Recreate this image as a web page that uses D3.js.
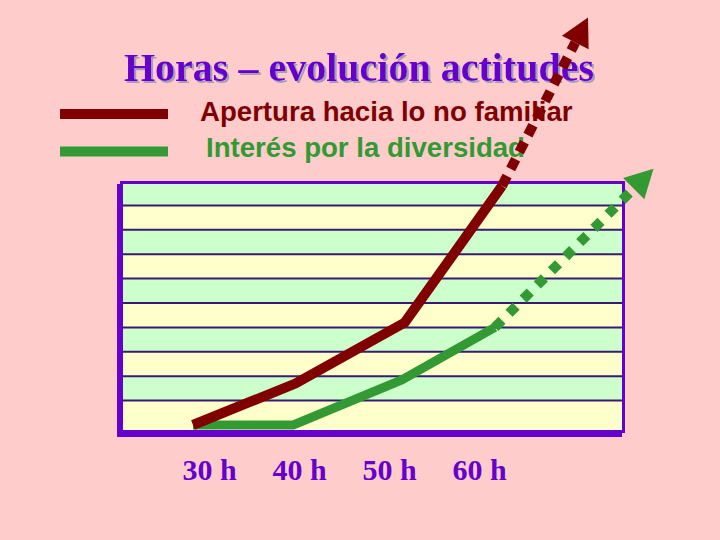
<!DOCTYPE html>
<html>
<head>
<meta charset="utf-8">
<script src="https://cdn.jsdelivr.net/npm/d3@7"></script>
<style>
  html, body { margin: 0; padding: 0; background: #FFCCCC; }
  svg { display: block; }
</style>
</head>
<body>
<script>
// ---- Data ----
const hourLabels = ["30 h", "40 h", "50 h", "60 h"];
const seriesNames = ["Apertura hacia lo no familiar", "Interés por la diversidad"];
const titleText = "Horas – evolución actitudes";

// Apertura hacia lo no familiar (solid part)
const aperturaHours  = [30, 40, 50.7, 60.2];
const aperturaValues = [0, 1.7, 4.2, 9.8];
// Apertura trend (dotted arrow)
const aperturaTrendHours  = [60.2, 68.6];
const aperturaTrendValues = [9.8, 16.7];

// Interés por la diversidad (solid part)
const interesHours  = [30, 39.8, 50.4, 59.5];
const interesValues = [0, 0, 1.85, 4.0];
// Interés trend (dotted arrow)
const interesTrendHours  = [59.5, 75];
const interesTrendValues = [4.0, 10.5];

const bandLevels = [0, 1, 2, 3, 4, 5, 6, 7, 8, 9, 10];

// ---- Styles ----
const C = {
  bg: "#FFCCCC", purple: "#6600CC", grid: "#3A1A70",
  green: "#CCFFCC", yellow: "#FFFFCC",
  red: "#800000", grn: "#339933", shadow: "#A89CB8"
};

const W = 720, H = 540;
const svg = d3.select("body").append("svg").attr("width", W).attr("height", H);
svg.append("rect").attr("width", W).attr("height", H).attr("fill", C.bg);

const defs = svg.append("defs");
defs.append("filter").attr("id", "tshadow").attr("x", "-5%").attr("y", "-20%")
  .attr("width", "110%").attr("height", "140%")
  .append("feDropShadow").attr("dx", 2).attr("dy", 2).attr("stdDeviation", 0.6)
  .attr("flood-color", C.shadow).attr("flood-opacity", 1);

// ---- Scales ----
const x = d3.scaleLinear().domain([30, 60]).range([193, 500]);
const y = d3.scaleLinear().domain([0, 10]).range([425, 181]);
const xLab = d3.scalePoint().domain(hourLabels).range([209, 479]);

const inner = { left: 123, right: 622, top: 184, bottom: 430 };

// ---- Frame shadow ----
svg.append("rect").attr("x", 117).attr("y", 184).attr("width", 505).attr("height", 253)
  .attr("fill", C.purple);

// ---- Stripes ----
const bands = d3.range(bandLevels.length - 1).map(i => {
  const hi = bandLevels[bandLevels.length - 1 - i];
  const lo = bandLevels[bandLevels.length - 2 - i];
  const top = Math.max(inner.top, y(hi));
  const bot = lo === 0 ? inner.bottom : y(lo);
  return { top, bot, i };
});
svg.append("g").selectAll("rect").data(bands).join("rect")
  .attr("x", inner.left).attr("width", inner.right - inner.left)
  .attr("y", d => d.top).attr("height", d => d.bot - d.top)
  .attr("fill", d => d.i % 2 === 0 ? C.green : C.yellow);

svg.append("g").selectAll("line").data(bandLevels.slice(1, -1)).join("line")
  .attr("x1", inner.left).attr("x2", inner.right)
  .attr("y1", d => y(d)).attr("y2", d => y(d))
  .attr("stroke", C.grid).attr("stroke-width", 2);

// ---- Solid lines ----
const line = d3.line().x(d => x(d[0])).y(d => y(d[1]));
const zip = (a, b) => a.map((v, i) => [v, b[i]]);

svg.append("path").datum(zip(interesHours, interesValues))
  .attr("d", line).attr("fill", "none").attr("stroke", C.grn).attr("stroke-width", 9);
svg.append("path").datum(zip(aperturaHours, aperturaValues))
  .attr("d", line).attr("fill", "none").attr("stroke", C.red).attr("stroke-width", 10);

// ---- Frame border ----
svg.append("rect").attr("x", 121.5).attr("y", 182.5).attr("width", 502).attr("height", 249)
  .attr("fill", "none").attr("stroke", C.purple).attr("stroke-width", 3);

// ---- Title (with drop shadow) ----
svg.append("text").attr("x", 359).attr("y", 81).text(titleText)
  .attr("text-anchor", "middle").attr("font-family", "'Liberation Serif', 'Times New Roman', serif")
  .attr("font-weight", "bold").attr("font-size", 40).attr("fill", C.purple)
  .attr("filter", "url(#tshadow)");

// ---- Legend ----
const legend = [
  { name: seriesNames[0], color: C.red, barY: 114, textX: 200, textY: 121 },
  { name: seriesNames[1], color: C.grn, barY: 151.5, textX: 206, textY: 157 }
];
const lg = svg.append("g");
lg.selectAll("line").data(legend).join("line")
  .attr("x1", 60).attr("x2", 168).attr("y1", d => d.barY).attr("y2", d => d.barY)
  .attr("stroke", d => d.color).attr("stroke-width", 10);
lg.selectAll("text").data(legend).join("text")
  .attr("x", d => d.textX).attr("y", d => d.textY).text(d => d.name)
  .attr("font-family", "'Liberation Sans', Arial, sans-serif").attr("font-weight", "bold")
  .attr("font-size", 27.6).attr("fill", d => d.color);

// ---- X labels ----
const ax = svg.append("g").attr("transform", "translate(0,480)")
  .call(d3.axisBottom(xLab).tickSize(0).tickPadding(0));
ax.select(".domain").remove();
ax.selectAll("text").attr("y", 0).attr("dy", 0)
  .attr("font-family", "'Liberation Serif', 'Times New Roman', serif")
  .attr("font-weight", "bold").attr("font-size", 30).attr("fill", C.purple);

// ---- Dotted trends with arrowheads ----
function trend(hrs, vals, color, width, dash, len, hw) {
  const p0 = [x(hrs[0]), y(vals[0])];
  const p1 = [x(hrs[1]), y(vals[1])];
  const dx = p1[0] - p0[0], dy = p1[1] - p0[1];
  const L = Math.hypot(dx, dy);
  const ux = dx / L, uy = dy / L;
  const bx = p1[0] - ux * len, by = p1[1] - uy * len;
  const px = -uy, py = ux;
  const g = svg.append("g");
  g.append("line").attr("x1", p0[0]).attr("y1", p0[1]).attr("x2", bx).attr("y2", by)
    .attr("stroke", color).attr("stroke-width", width).attr("stroke-dasharray", dash);
  g.append("path")
    .attr("d", `M${p1[0]},${p1[1]}L${bx + px * hw},${by + py * hw}L${bx - px * hw},${by - py * hw}Z`)
    .attr("fill", color);
}
trend(aperturaTrendHours, aperturaTrendValues, C.red, 10, "11,8", 28, 15);
trend(interesTrendHours, interesTrendValues, C.grn, 10, "10,10", 28, 15);
</script>
</body>
</html>
